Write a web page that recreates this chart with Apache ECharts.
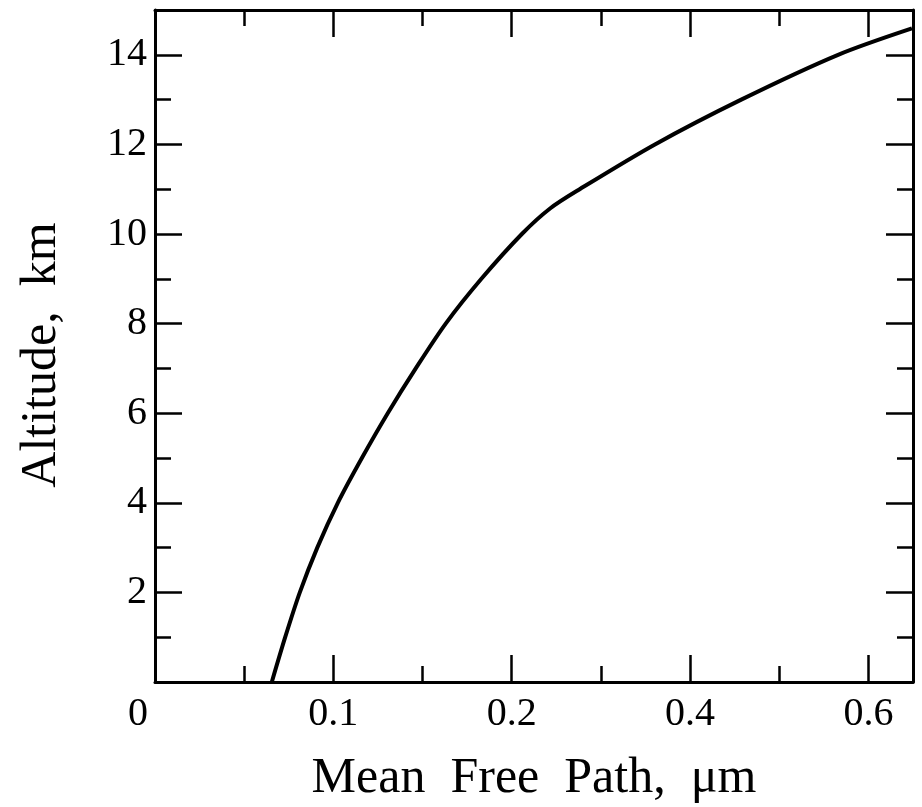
<!DOCTYPE html>
<html>
<head>
<meta charset="utf-8">
<script src="https://cdn.jsdelivr.net/npm/echarts@6.0.0/dist/echarts.min.js"></script>
<style>
  html, body { margin: 0; padding: 0; background: #fff; }
  #chart { width: 922px; height: 807px; }
</style>
</head>
<body>
<div id="chart"></div>
<script>
// ---- data ----
const altitudeValues = [0, 1, 2, 3, 4, 5, 6, 7, 8, 9, 10, 10.57, 11, 12, 13, 14, 14.59];
const mfpValues = [0.0655, 0.0730, 0.0812, 0.0910, 0.1025, 0.1160, 0.1305, 0.1462, 0.1630, 0.1830,
  0.2057, 0.2215, 0.2381, 0.2803, 0.3287, 0.3830, 0.4244];

// tick labels as printed on the figure
const xTickValues = [0, 0.1, 0.2, 0.3, 0.4];
const xTickLabels = ['0', '0.1', '0.2', '0.4', '0.6'];
const yTickValues = [2, 4, 6, 8, 10, 12, 14];
const yTickLabels = ['2', '4', '6', '8', '10', '12', '14'];

const xName = 'Mean  Free  Path,  μm';
const yName = 'Altitude,  km';

const font = 'Liberation Serif';
const xMax = 0.425, yMax = 15;
const majorLen = 27, minorLen = 16;

function xLabel(v) {
  const i = xTickValues.findIndex(t => Math.abs(t - v) < 1e-9);
  if (i < 0) return '';
  return i === 0 ? '{z|' + xTickLabels[i] + '}' : xTickLabels[i];
}
function yLabel(v) {
  const i = yTickValues.findIndex(t => Math.abs(t - v) < 1e-9);
  return i < 0 ? '' : yTickLabels[i];
}

// one axis per side for the major ticks and one for the minor ones
function xAx(position, major) {
  const isMain = position === 'bottom' && major;
  return {
    type: 'value', position: position, min: 0, max: xMax,
    interval: major ? 0.1 : 0.05,
    axisLine: { show: major, onZero: false, lineStyle: { color: '#000', width: 3 } },
    axisTick: { show: true, inside: true, length: major ? majorLen : minorLen, lineStyle: { color: '#000', width: 2.5 } },
    axisLabel: {
      show: isMain, margin: 12, color: '#000', fontFamily: font, fontSize: 40,
      showMaxLabel: false, hideOverlap: false,
      formatter: xLabel,
      rich: { z: { fontFamily: font, fontSize: 40, color: '#000', padding: [0, 34, 0, 0] } }
    },
    splitLine: { show: false },
    name: isMain ? xName : '',
    nameLocation: 'middle', nameGap: 72,
    nameTextStyle: { color: '#000', fontFamily: font, fontSize: 50 }
  };
}
function yAx(position, major) {
  const isMain = position === 'left' && major;
  return {
    type: 'value', position: position, min: 0, max: yMax,
    interval: major ? 2 : 1,
    axisLine: { show: major, onZero: false, lineStyle: { color: '#000', width: 3 } },
    axisTick: { show: true, inside: true, length: major ? majorLen : minorLen, lineStyle: { color: '#000', width: 2.5 } },
    axisLabel: {
      show: isMain, margin: 8, color: '#000', fontFamily: font, fontSize: 40,
      showMinLabel: false, showMaxLabel: false, hideOverlap: false,
      formatter: yLabel
    },
    splitLine: { show: false },
    name: isMain ? yName : '',
    nameLocation: 'middle', nameGap: 88,
    nameTextStyle: { color: '#000', fontFamily: font, fontSize: 50, padding: [0, 18, 0, 0] }
  };
}

const chart = echarts.init(document.getElementById('chart'), null, { renderer: 'canvas' });
chart.setOption({
  backgroundColor: '#fff',
  animation: false,
  grid: { left: 155, right: 9, top: 10, bottom: 125, containLabel: false, outerBoundsMode: 'none' },
  xAxis: [xAx('bottom', true), xAx('bottom', false), xAx('top', true), xAx('top', false)],
  yAxis: [yAx('left', true), yAx('left', false), yAx('right', true), yAx('right', false)],
  series: [{
    type: 'line',
    xAxisIndex: 0, yAxisIndex: 0,
    data: mfpValues.map((x, i) => [x, altitudeValues[i]]),
    showSymbol: false,
    smooth: 0.3,
    lineStyle: { color: '#000', width: 4 },
    clip: true
  }]
});
</script>
</body>
</html>
